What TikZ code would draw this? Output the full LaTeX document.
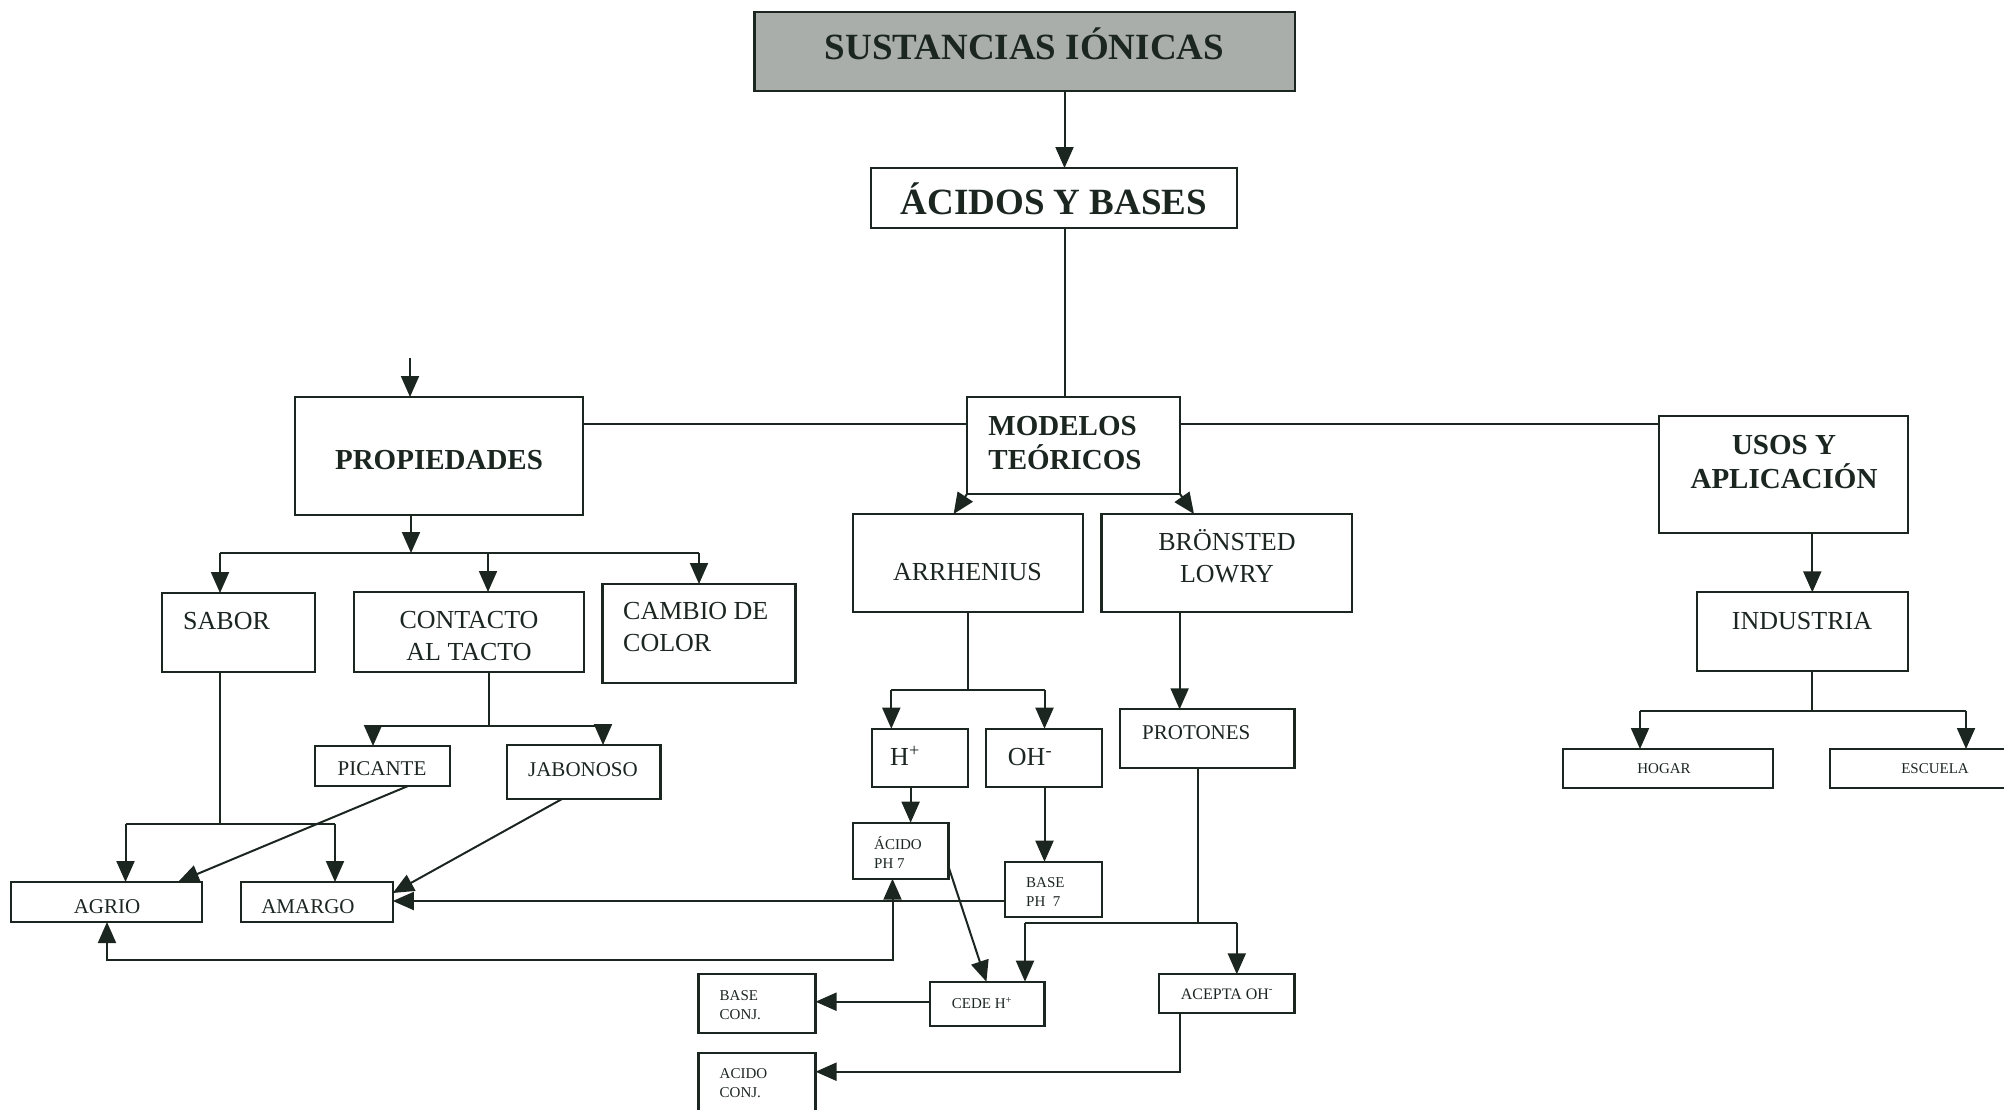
\documentclass[tikz,border=0pt]{standalone}
\usepackage{fontspec}
\setmainfont{Liberation Serif}
\usetikzlibrary{arrows.meta}
\definecolor{lc}{RGB}{28,38,33}
\definecolor{gfill}{RGB}{170,174,170}
\tikzset{
 bx/.style={draw=lc, line width=2.1pt, inner sep=0pt, outer sep=0pt, rectangle},
 ln/.style={draw=lc, line width=2pt},
 arr/.style={ln, -{Triangle[length=21pt,width=18pt]}},
 darr/.style={ln, {Triangle[length=21pt,width=18pt]}-{Triangle[length=21pt,width=18pt]}},
 tx/.style={inner sep=0pt, text=lc},
 fA/.style={tx, font=\fontsize{37}{43}\selectfont\bfseries},
 fB/.style={tx, font=\fontsize{29}{34}\selectfont\bfseries},
 fC/.style={tx, font=\fontsize{26}{32}\selectfont},
 fD/.style={tx, font=\fontsize{21}{25}\selectfont},
 fE/.style={tx, font=\fontsize{15}{19}\selectfont},
 fF/.style={tx, font=\fontsize{16}{19}\selectfont},
}
\newcommand{\mkbox}[6][]{\node[bx,#1,minimum width={#5-#3},minimum height={#6-#4}] (#2) at ({(#3+#5)/2},{(#4+#6)/2}) {};}
\begin{document}
\begin{tikzpicture}[x=1pt,y=-1pt]
\useasboundingbox (0,0) rectangle (2004,1109);
\clip (0,0) rectangle (2004,1109);
% boxes
\mkbox[fill=gfill]{sust}{754.5}{12}{1294.6}{90.7}
\mkbox{acidos}{871}{168}{1237}{228}
\mkbox{modelos}{967}{397}{1180}{494}
\mkbox{prop}{295}{397}{583}{515}
\mkbox{usos}{1659}{416}{1908}{533}
\mkbox{sabor}{162}{593}{315}{672}
\mkbox{contacto}{354}{592}{584}{672}
\mkbox{cambio}{602.5}{584}{795.5}{683}
\mkbox{picante}{315}{746}{450}{786}
\mkbox{jabon}{507}{745}{660.5}{799}
\mkbox{agrio}{11}{882}{202.4}{922}
\mkbox{amargo}{240.6}{882}{392.8}{922}
\mkbox{arrh}{852.6}{514}{1082.8}{612}
\mkbox{bron}{1101.5}{514}{1352}{612}
\mkbox{hplus}{872}{728.7}{968.3}{787.3}
\mkbox{ohm}{986.4}{728.7}{1101.7}{787.3}
\mkbox{prot}{1120}{709.3}{1294.5}{768.3}
\mkbox{acidop}{853}{822.7}{948.5}{878.7}
\mkbox{basep}{1005}{861.7}{1101.7}{917.3}
\mkbox{cede}{929.6}{981.7}{1044.5}{1025.7}
\mkbox{acepta}{1159}{974.3}{1294.5}{1013.3}
\mkbox{baseconj}{698.5}{974.3}{815.5}{1033.3}
\mkbox{acidoconj}{698.5}{1052.7}{815.5}{1116}
\mkbox{ind}{1696.7}{592.3}{1908.3}{670.7}
\mkbox{hogar}{1562.7}{749}{1773.3}{788.3}
\mkbox{escuela}{1830}{749}{2016}{788.3}
% texts
\node[fA, anchor=base] (t-sust) at (1024.5,59) {SUSTANCIAS IÓNICAS};
\node[fA, anchor=base] (t-acidos) at (1054,214) {ÁCIDOS Y BASES};
\node[fB, align=left] (t-modelos) at (1065,443) {MODELOS\\TEÓRICOS};
\node[fB, anchor=base] (t-prop) at (439,469) {PROPIEDADES};
\node[fB, align=center] (t-usos) at (1784,462) {USOS Y\\APLICACIÓN};
\node[fC] (t-arrh) at (967.5,572) {ARRHENIUS};
\node[fC, align=center] (t-bron) at (1227,556) {BRÖNSTED\\LOWRY};
\node[fC, anchor=west] (t-sabor) at (183,621) {SABOR};
\node[fC, align=center] (t-contacto) at (469,636) {CONTACTO\\AL TACTO};
\node[fC, align=left, anchor=west] (t-cambio) at (623,627) {CAMBIO DE\\COLOR};
\node[fD] (t-picante) at (382,769) {PICANTE};
\node[fD] (t-jabon) at (583,770) {JABONOSO};
\node[fD] (t-agrio) at (107,907) {AGRIO};
\node[fD] (t-amargo) at (308,907) {AMARGO};
\node[fC] (t-hplus) at (905,756) {H\textsuperscript{+}};
\node[fC] (t-ohm) at (1030,757) {OH\textsuperscript{-}};
\node[fD, anchor=west] (t-prot) at (1142,733) {PROTONES};
\node[fE, align=left, anchor=west] (t-acidop) at (874,853) {ÁCIDO\\PH 7};
\node[fE, align=left, anchor=west] (t-basep) at (1026,892.5) {BASE\\PH~~7};
\node[fE] (t-cede) at (982,1003) {CEDE H\textsuperscript{+}};
\node[fF] (t-acepta) at (1227,994) {ACEPTA OH\textsuperscript{-}};
\node[fE, align=left, anchor=west] (t-baseconj) at (719.5,1005) {BASE\\CONJ.};
\node[fE, align=left, anchor=west] (t-acidoconj) at (719.5,1083) {ACIDO\\CONJ.};
\node[fC] (t-ind) at (1802,621) {INDUSTRIA};
\node[fE] (t-hogar) at (1664,769) {HOGAR};
\node[fE] (t-escuela) at (1935,769) {ESCUELA};
% helper coordinates
\coordinate (vA) at (1064.5,0);
\coordinate (hy) at (0,424);
\coordinate (pin) at (410,358);
\coordinate (pbC) at (411,553);
\coordinate (pbL) at (220,553);
\coordinate (pbM) at (488,553);
\coordinate (pbR) at (699,553);
\coordinate (sbC) at (220,824);
\coordinate (sbL) at (125.5,824);
\coordinate (sbR) at (335,824);
\coordinate (ctC) at (489,726);
\coordinate (ctL) at (373,726);
\coordinate (ctR) at (603,726);
\coordinate (pa1) at (408,0);
\coordinate (pa2) at (178,0);
\coordinate (ja1) at (562,0);
\coordinate (ja2) at (0,893);
\coordinate (bm) at (0,901);
\coordinate (lp1) at (107,960);
\coordinate (lp2) at (892.5,960);
\coordinate (ar1) at (953.6,0);
\coordinate (br1) at (1194,0);
\coordinate (arC) at (968.3,690);
\coordinate (arL) at (891.3,690);
\coordinate (arR) at (1044.5,690);
\coordinate (bp) at (1179.6,0);
\coordinate (hp) at (910.6,0);
\coordinate (om) at (1044.5,0);
\coordinate (ac1) at (0,866.7);
\coordinate (ac2) at (986.4,0);
\coordinate (prC) at (1197.7,923.3);
\coordinate (prL) at (1025,923.3);
\coordinate (prR) at (1236.8,923.3);
\coordinate (cb) at (0,1001.7);
\coordinate (aa) at (1179.6,1071.7);
\coordinate (ui) at (1812.3,0);
\coordinate (inC) at (1812.3,710.7);
\coordinate (inL) at (1640,710.7);
\coordinate (inR) at (1966,710.7);
% connectors
\draw[arr] (sust.south -| vA) -- (acidos.north -| vA);
\draw[ln] (acidos.south -| vA) -- (modelos.north -| vA);
\draw[ln] (prop.east |- hy) -- (modelos.west |- hy);
\draw[ln] (modelos.east |- hy) -- (usos.west |- hy);
\draw[arr] (pin) -- (prop.north -| pin);
\draw[arr] (prop.south -| pbC) -- (pbC);
\draw[ln] (pbL) -- (pbR);
\draw[arr] (pbL) -- (sabor.north -| pbL);
\draw[arr] (pbM) -- (contacto.north -| pbM);
\draw[arr] (pbR) -- (cambio.north -| pbR);
\draw[ln] (sabor.south -| sbC) -- (sbC);
\draw[ln] (sbL) -- (sbR);
\draw[arr] (sbL) -- (agrio.north -| sbL);
\draw[arr] (sbR) -- (amargo.north -| sbR);
\draw[ln] (contacto.south -| ctC) -- (ctC);
\draw[ln] (ctL) -- (ctR);
\draw[arr] (ctL) -- (picante.north -| ctL);
\draw[arr] (ctR) -- (jabon.north -| ctR);
\draw[arr] (picante.south -| pa1) -- (agrio.north -| pa2);
\draw[arr] (jabon.south -| ja1) -- (amargo.east |- ja2);
\draw[arr] (basep.west |- bm) -- (amargo.east |- bm);
\draw[darr] (agrio.south -| lp1) -- (lp1) -- (lp2) -- (acidop.south -| lp2);
\draw[arr] (modelos.south west) -- (arrh.north -| ar1);
\draw[arr] (modelos.south east) -- (bron.north -| br1);
\draw[ln] (arrh.south -| arC) -- (arC);
\draw[ln] (arL) -- (arR);
\draw[arr] (arL) -- (hplus.north -| arL);
\draw[arr] (arR) -- (ohm.north -| arR);
\draw[arr] (bron.south -| bp) -- (prot.north -| bp);
\draw[arr] (hplus.south -| hp) -- (acidop.north -| hp);
\draw[arr] (ohm.south -| om) -- (basep.north -| om);
\draw[arr] (acidop.east |- ac1) -- (cede.north -| ac2);
\draw[ln] (prot.south -| prC) -- (prC);
\draw[ln] (prL) -- (prR);
\draw[arr] (prL) -- (cede.north -| prL);
\draw[arr] (prR) -- (acepta.north -| prR);
\draw[arr] (cede.west |- cb) -- (baseconj.east |- cb);
\draw[arr] (acepta.south -| aa) -- (aa) -- (acidoconj.east |- aa);
\draw[arr] (usos.south -| ui) -- (ind.north -| ui);
\draw[ln] (ind.south -| inC) -- (inC);
\draw[ln] (inL) -- (inR);
\draw[arr] (inL) -- (hogar.north -| inL);
\draw[arr] (inR) -- (escuela.north -| inR);
\end{tikzpicture}
\end{document}
